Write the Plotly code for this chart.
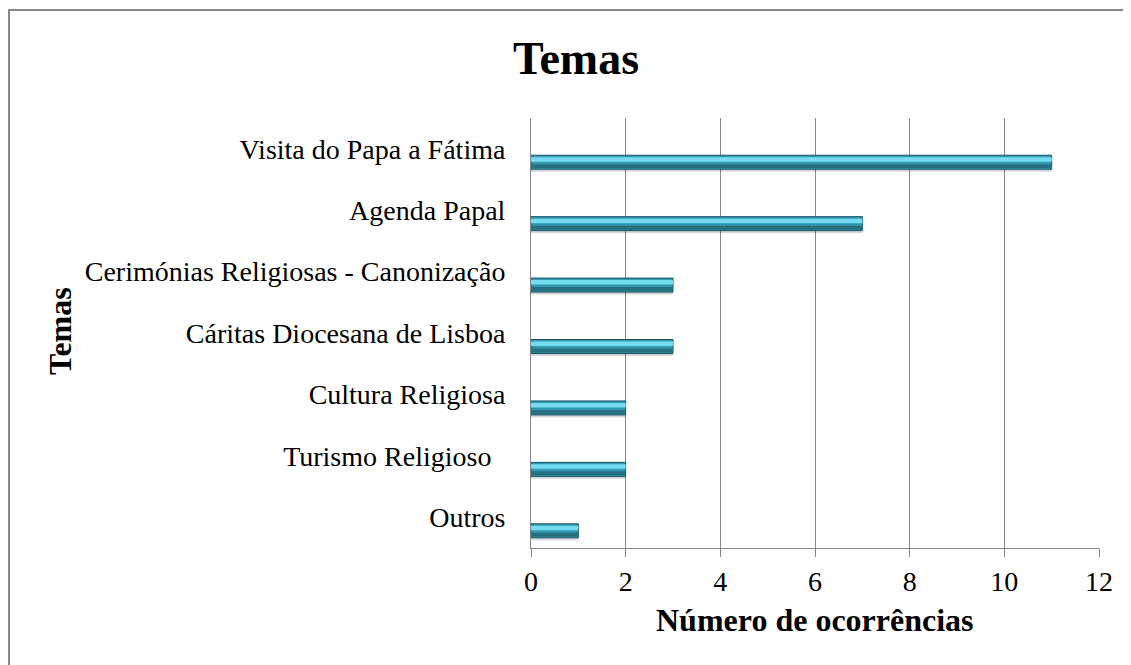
import plotly.graph_objects as go

categories = [
    "Visita do Papa a Fátima",
    "Agenda Papal",
    "Cerimónias Religiosas - Canonização",
    "Cáritas Diocesana de Lisboa",
    "Cultura Religiosa",
    "Turismo Religioso ",
    "Outros",
]
values = [11, 7, 3, 3, 2, 2, 1]
x_ticks = [0, 2, 4, 6, 8, 10, 12]

FONT = "Liberation Serif"
GRID = "#868686"

# the page body has an 8px margin, so the figure starts at (8, 8)
PAGE_OFF = 8
W, H = 1131 - PAGE_OFF, 665 - PAGE_OFF

# plot area on the page: x 531..1099, y 118..548 (7 bands of ~61.4px)
PL, PR, PT, PB = 531, 1099, 118, 548
PW, PH = PR - PL, PB - PT
BAND = PH / 7


def off(px):
    return px / BAND


def px_x(x):
    return (x - PL) / PW


def px_y(y):
    return (PB - y) / PH


tick_text = [c.rstrip() + "\u00a0\u00a0" if c.endswith(" ") else c for c in categories]

fig = go.Figure()

# soft shadow
fig.add_trace(go.Bar(
    x=values, y=categories, orientation="h",
    offset=off(9), width=off(14),
    marker=dict(color="rgba(0,0,0,0.16)", line=dict(width=0)),
    hoverinfo="skip", showlegend=False,
))
# bar body
fig.add_trace(go.Bar(
    x=values, y=categories, orientation="h",
    offset=off(6.5), width=off(14),
    marker=dict(color="#3399B2", line=dict(color="#1B5565", width=1)),
    showlegend=False,
))
# light top band
fig.add_trace(go.Bar(
    x=values, y=categories, orientation="h",
    offset=off(8.5), width=off(4.5),
    marker=dict(color="#74DBF1", line=dict(width=0)),
    hoverinfo="skip", showlegend=False,
))
# darker lower band
fig.add_trace(go.Bar(
    x=values, y=categories, orientation="h",
    offset=off(15.5), width=off(4),
    marker=dict(color="#26707F", line=dict(width=0)),
    hoverinfo="skip", showlegend=False,
))

fig.update_layout(
    width=W, height=H,
    barmode="overlay",
    paper_bgcolor="white", plot_bgcolor="white",
    margin=dict(l=PL - PAGE_OFF, r=W - (PR - PAGE_OFF), t=PT - PAGE_OFF, b=H - (PB - PAGE_OFF)),
    font=dict(family=FONT, color="black", size=28),
    title=dict(
        text="<b>Temas</b>",
        font=dict(family=FONT, size=46, color="black"),
        x=(576 - PAGE_OFF) / W, xanchor="center",
        y=1 - (58 - PAGE_OFF) / H, yanchor="middle",
        xref="container", yref="container",
    ),
    xaxis=dict(
        range=[0, 12], tickvals=x_ticks,
        showgrid=True, gridcolor=GRID, gridwidth=1,
        showline=True, linecolor=GRID, linewidth=1,
        ticks="outside", ticklen=8, tickcolor=GRID,
        ticklabelstandoff=0,
        tickfont=dict(family=FONT, size=28, color="black"),
        zeroline=False,
    ),
    yaxis=dict(
        categoryorder="array", categoryarray=categories,
        autorange="reversed",
        tickvals=categories, ticktext=tick_text,
        showgrid=False,
        showline=True, linecolor=GRID, linewidth=1,
        ticks="", ticklabelstandoff=19,
        tickfont=dict(family=FONT, size=28, color="black"),
    ),
    annotations=[
        dict(
            text="<b>Número de ocorrências</b>",
            xref="paper", yref="paper",
            x=0.5, y=px_y(620),
            xanchor="center", yanchor="middle",
            showarrow=False,
            font=dict(family=FONT, size=32, color="black"),
        ),
        dict(
            text="<b>Temas</b>",
            xref="paper", yref="paper",
            x=px_x(60), y=px_y(331),
            xanchor="center", yanchor="middle",
            textangle=-90, showarrow=False,
            font=dict(family=FONT, size=32, color="black"),
        ),
    ],
    shapes=[
        dict(
            type="rect", xref="paper", yref="paper",
            x0=px_x(9), x1=px_x(1180),
            y0=px_y(720), y1=px_y(10),
            line=dict(color=GRID, width=2), fillcolor="rgba(0,0,0,0)",
            layer="below",
        ),
    ],
)

# keep the page from growing scrollbars
fig.write_html("out.html", post_script="document.body.style.overflow='hidden';")
